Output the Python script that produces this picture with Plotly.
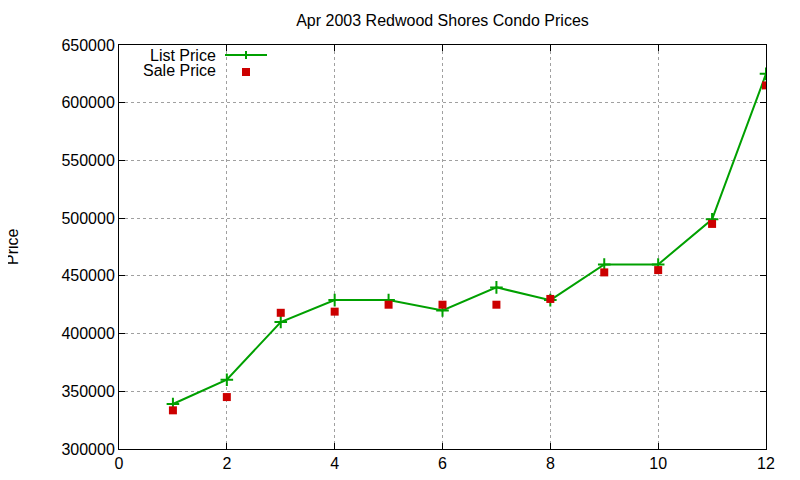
import plotly.graph_objects as go

months = [1, 2, 3, 4, 5, 6, 7, 8, 9, 10, 11, 12]
list_price = [339000, 360000, 410000, 429000, 429000, 420000, 440000, 429000, 459900, 459900, 499000, 625000]
sale_price = [333500, 345000, 418000, 419000, 425000, 425000, 425000, 430000, 453000, 455000, 495000, 615000]
x_ticks = [0, 2, 4, 6, 8, 10, 12]
y_ticks = [300000, 350000, 400000, 450000, 500000, 550000, 600000, 650000]

GREEN = "#00a000"
RED = "#cc0000"
FONT = "Liberation Sans, Arial, sans-serif"

# page body has an 8px margin; work in screen coordinates then shift
OFF = 8
W, H = 800, 480
L = 119 - OFF
T = 45 - OFF
R = W - (766 - OFF)
B = H - (449 - OFF)
PW, PH = W - L - R, H - T - B

def px(x):
    return (x - OFF - L) / PW

def py(y):
    return (H - B - (y - OFF)) / PH

fig = go.Figure()
fig.add_trace(go.Scatter(
    x=months, y=list_price, mode="lines+markers", name="List Price",
    line=dict(color=GREEN, width=2),
    marker=dict(symbol="cross-thin", size=9, line=dict(color=GREEN, width=2), color=GREEN),
    showlegend=False,
))
fig.add_trace(go.Scatter(
    x=months, y=sale_price, mode="markers", name="Sale Price",
    marker=dict(symbol="square", size=8, color=RED),
    showlegend=False,
))

axis_common = dict(
    showline=True, linecolor="black", linewidth=1, mirror="ticks",
    ticks="inside", ticklen=6, tickcolor="black", tickwidth=1,
    showgrid=True, gridcolor="#a0a0a0", griddash="dot", gridwidth=1,
    zeroline=False, tickfont=dict(family=FONT, size=16, color="black"),
)
fig.update_xaxes(range=[0, 12], tickvals=x_ticks, **axis_common)
fig.update_yaxes(range=[300000, 650000], tickvals=y_ticks, ticktext=[str(v) for v in y_ticks], **axis_common)

# legend (custom, gnuplot-style: text left, sample to the right)
fig.add_annotation(x=px(218), y=py(55), xref="paper", yref="paper", text="List Price",
                   showarrow=False, xanchor="right", yanchor="middle",
                   font=dict(family=FONT, size=16, color="black"))
fig.add_annotation(x=px(218), y=py(71), xref="paper", yref="paper", text="Sale Price",
                   showarrow=False, xanchor="right", yanchor="middle",
                   font=dict(family=FONT, size=16, color="black"))
fig.add_shape(type="line", xref="paper", yref="paper", x0=px(225), x1=px(267), y0=py(55), y1=py(55),
              line=dict(color=GREEN, width=2))
fig.add_shape(type="line", xref="paper", yref="paper", x0=px(246), x1=px(246), y0=py(51), y1=py(59),
              line=dict(color=GREEN, width=2))
fig.add_shape(type="rect", xref="paper", yref="paper", x0=px(242), x1=px(250), y0=py(68), y1=py(76),
              line=dict(width=0), fillcolor=RED)

# y axis title
fig.add_annotation(x=px(12), y=py(247), xref="paper", yref="paper", text="Price",
                   showarrow=False, textangle=-90, xanchor="center", yanchor="middle",
                   font=dict(family=FONT, size=16, color="black"))

fig.update_layout(
    width=W, height=H,
    margin=dict(l=L, r=R, t=T, b=B),
    paper_bgcolor="white", plot_bgcolor="white",
    title=dict(text="Apr 2003 Redwood Shores Condo Prices", x=0.5, xref="paper",
               y=1 - (20 - OFF) / H, yref="container", xanchor="center", yanchor="middle",
               font=dict(family=FONT, size=16, color="black")),
    showlegend=False,
)

fig.write_html("out.html")
